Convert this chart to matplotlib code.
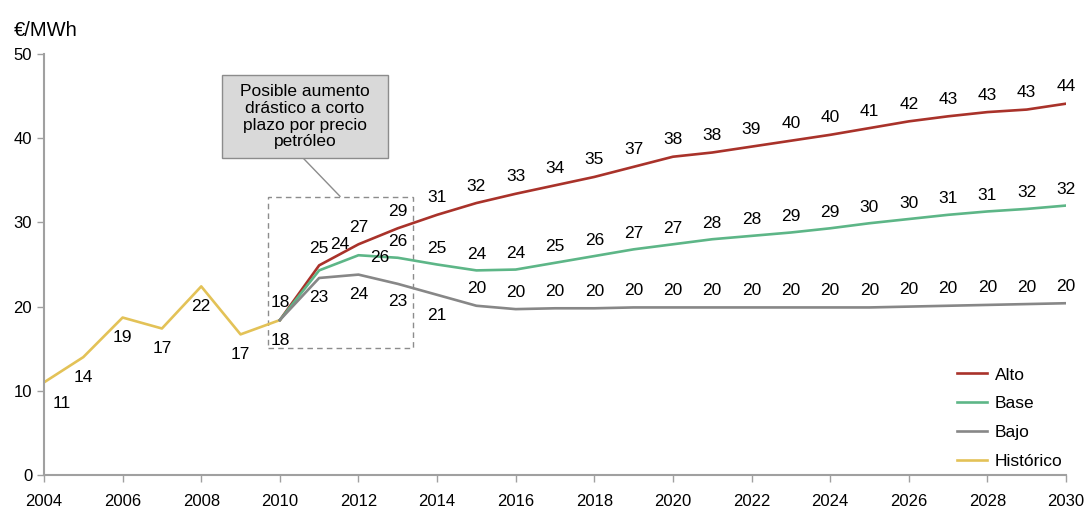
import matplotlib
matplotlib.use("Agg")
import matplotlib.pyplot as plt
from matplotlib.patches import Rectangle

plt.rcParams['font.family'] = ['Liberation Sans', 'DejaVu Sans']

# data
hist_years = list(range(2004, 2011))
hist_vals = [11.0, 14.0, 18.7, 17.4, 22.4, 16.7, 18.4]

fc_years = list(range(2010, 2031))
alto = [18.4, 24.9, 27.4, 29.3, 30.9, 32.3, 33.4, 34.4, 35.4, 36.6, 37.8,
        38.3, 39.0, 39.7, 40.4, 41.2, 42.0, 42.6, 43.1, 43.4, 44.1]
base = [18.4, 24.3, 26.1, 25.8, 25.0, 24.3, 24.4, 25.2, 26.0, 26.8, 27.4,
        28.0, 28.4, 28.8, 29.3, 29.9, 30.4, 30.9, 31.3, 31.6, 32.0]
bajo = [18.4, 23.4, 23.8, 22.7, 21.4, 20.1, 19.7, 19.8, 19.8, 19.9, 19.9,
        19.9, 19.9, 19.9, 19.9, 19.9, 20.0, 20.1, 20.2, 20.3, 20.4]

xticks = list(range(2004, 2031, 2))
yticks = [0, 10, 20, 30, 40, 50]

C_ALTO = '#A9322A'
C_BASE = '#5DB687'
C_BAJO = '#878787'
C_HIST = '#E3C257'
FS = 12.5


def label_series(ax, years, vals, default, overrides):
  for yr, v in zip(years, vals):
    off = overrides.get(yr, default)
    if off is None:
      continue
    ax.annotate(str(int(round(v))), (yr, v), xytext=off,
                textcoords='offset pixels', ha='center', va='center',
                fontsize=FS, color='black')


def main():
  fig = plt.figure(figsize=(10.89, 5.11), dpi=100)
  ax = fig.add_axes([44 / 1089, 36 / 511, (1066 - 44) / 1089, (475 - 54) / 511])

  ax.plot(fc_years, alto, color=C_ALTO, lw=1.9, label='Alto', zorder=3)
  ax.plot(fc_years, base, color=C_BASE, lw=1.9, label='Base', zorder=3)
  ax.plot(fc_years, bajo, color=C_BAJO, lw=1.9, label='Bajo', zorder=3)
  ax.plot(hist_years, hist_vals, color=C_HIST, lw=1.9, label='Histórico', zorder=2)

  label_series(ax, hist_years, hist_vals, (0, -20), {2004: (18, -21), 2010: None})
  label_series(ax, fc_years, alto, (0, 17), {2010: (0, 18)})
  label_series(ax, fc_years, base, (0, 16),
               {2010: None, 2011: (21, 26), 2012: (21, -2)})
  label_series(ax, fc_years, bajo, (0, 17),
               {2010: (0, -20), 2011: (0, -20), 2012: (0, -20),
                2013: (0, -18), 2014: (0, -21)})

  # dashed highlight box
  ax.add_patch(Rectangle((2009.7, 15.1), 3.69, 17.9, fill=False,
                         ls=(0, (4, 3)), lw=1, ec='#8C8C8C', zorder=1))
  ax.plot([2010.59, 2011.53], [37.65, 33.1], color='#8C8C8C', lw=1)
  ax.add_patch(Rectangle((2008.53, 37.65), 4.22, 9.85, fc='#D9D9D9',
                         ec='#8C8C8C', lw=1, zorder=4))
  ax.text(2010.64, 42.55, 'Posible aumento\ndrástico a corto\nplazo por precio\npetróleo',
          ha='center', va='center', fontsize=FS, linespacing=1.15, zorder=5)

  ax.set_xlim(2004, 2030)
  ax.set_ylim(0, 50)
  ax.set_xticks(xticks)
  ax.set_yticks(yticks)
  ax.tick_params(axis='both', labelsize=12, color='#A0A0A0', length=5, width=1)
  ax.tick_params(axis='x', pad=9)
  for s in ['top', 'right']:
    ax.spines[s].set_visible(False)
  for s in ['left', 'bottom']:
    ax.spines[s].set_color('#A0A0A0')
    ax.spines[s].set_linewidth(1.5)

  fig.text(14 / 1089, 1 - 30 / 511, '€/MWh', fontsize=14.5, va='center', ha='left')

  ax.legend(loc='lower right', frameon=False, fontsize=FS, handlelength=1.75,
            handletextpad=0.45, labelspacing=0.78, bbox_to_anchor=(1.012, -0.022))

  fig.savefig('out.png', dpi=100)


if __name__ == "__main__":
  main()
